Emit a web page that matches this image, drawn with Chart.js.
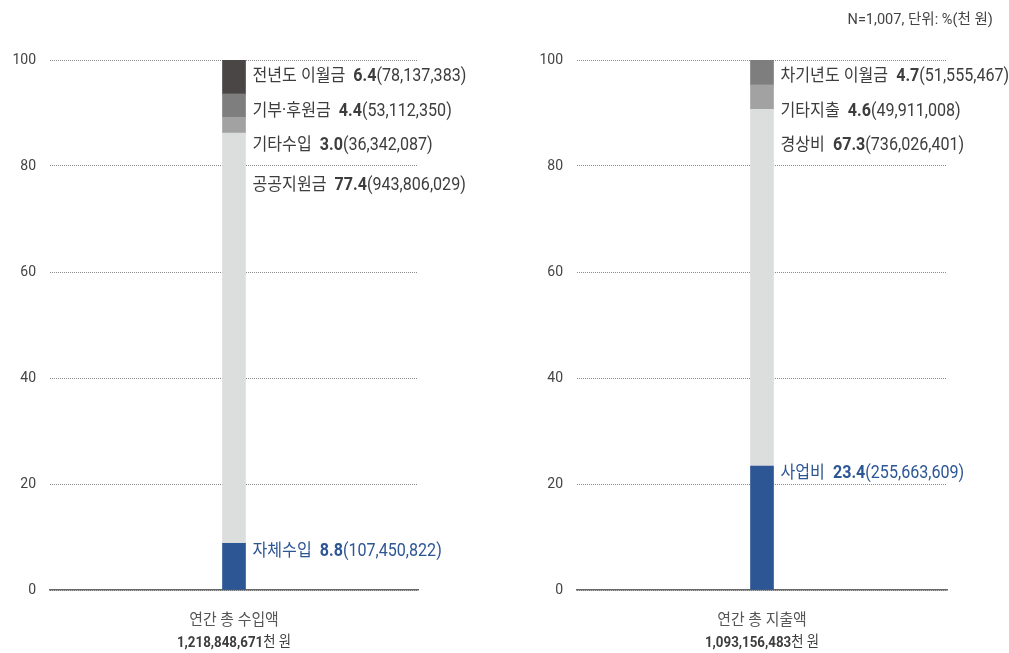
<!DOCTYPE html>
<html lang="ko">
<head>
    <meta charset="UTF-8">
    <title>연간 총 수입액 / 지출액</title>
    <style>
        body {
            margin: 0;
            background: #ffffff;
            font-family: Roboto, 'Noto Sans CJK KR', sans-serif;
        }

        .wrap {
            position: relative;
            width: 1009px;
            height: 653px;
        }

        .panel {
            position: absolute;
            top: 0;
            height: 653px;
        }

        .note {
            position: absolute;
            right: 16px;
            top: 7px;
            font-size: 15px;
            color: #444;
            transform: scaleX(0.97);
            transform-origin: right center;
            white-space: nowrap;
        }
    </style>
</head>
<body>
    <div class="wrap">
        <div class="panel" style="left:0; width:504px;"><canvas id="income"></canvas></div>
        <div class="panel" style="left:504px; width:505px;"><canvas id="expense"></canvas></div>
        <div class="note">N=1,007, 단위: %(천 원)</div>
    </div>

    <script src="https://cdn.jsdelivr.net/npm/chart.js"></script>
    <script>
        // 데이터
        const categories = ['연간 총 수입액', '연간 총 지출액'];
        const totals = ['1,218,848,671', '1,093,156,483'];
        const yTicks = [0, 20, 40, 60, 80, 100];

        const incomeLabels = ['자체수입', '공공지원금', '기타수입', '기부·후원금', '전년도 이월금'];
        const incomeShares = [8.8, 77.4, 3.0, 4.4, 6.4];
        const incomeAmounts = ['107,450,822', '943,806,029', '36,342,087', '53,112,350', '78,137,383'];

        const expenseLabels = ['사업비', '경상비', '기타지출', '차기년도 이월금'];
        const expenseShares = [23.4, 67.3, 4.6, 4.7];
        const expenseAmounts = ['255,663,609', '736,026,401', '49,911,008', '51,555,467'];

        // 색상
        const incomeColors = ['#2d5694', '#dcdddd', '#a2a2a2', '#7e7e7e', '#4b4646'];
        const expenseColors = ['#2d5694', '#dcdddd', '#a2a2a2', '#7e7e7e'];
        const BLUE = '#2d5694';
        const TEXT = '#3d3d3d';
        const FONT = "Roboto, 'Noto Sans CJK KR', sans-serif";
        // 위쪽 라벨들의 세로 간격 (100 눈금선 기준 px)
        const labelOffsets = [17, 52, 86, 126];

        function drawRuns(ctx, runs, x, y, align, size, sx) {
            ctx.save();
            ctx.textBaseline = 'middle';
            const widths = runs.map(r => {
                ctx.font = (r.bold ? 'bold ' : '') + size + 'px ' + FONT;
                return ctx.measureText(r.text).width;
            });
            const total = widths.reduce((a, b) => a + b, 0);
            const startX = align === 'center' ? x - total * sx / 2 : x;
            ctx.translate(startX, y);
            ctx.scale(sx, 1);
            let cx = 0;
            runs.forEach((r, i) => {
                ctx.font = (r.bold ? 'bold ' : '') + size + 'px ' + FONT;
                ctx.fillStyle = r.color;
                ctx.fillText(r.text, cx, 0);
                cx += widths[i];
            });
            ctx.restore();
        }

        function labelRuns(name, share, amount, color) {
            return [
                { text: name + '  ', bold: false, color: color },
                { text: share.toFixed(1), bold: true, color: color },
                { text: '(' + amount + ')', bold: false, color: color }
            ];
        }

        // 막대 옆 라벨과 아래 제목
        const labelPlugin = {
            id: 'barLabels',
            afterDatasetsDraw(chart, args, opts) {
                const ctx = chart.ctx;
                const y = chart.scales.y;
                const n = chart.data.datasets.length;
                const bar0 = chart.getDatasetMeta(0).data[0];
                const lx = bar0.x + bar0.width / 2 + 7;

                // 파란 막대 라벨: 막대 윗부분
                drawRuns(ctx, labelRuns(opts.names[0], opts.shares[0], opts.amounts[0], BLUE),
                    lx, bar0.y + 8, 'left', 17.5, 0.92);

                // 나머지: 위에서부터 차례로
                let k = 0;
                for (let i = n - 1; i >= 1; i--) {
                    const ly = y.getPixelForValue(100) + labelOffsets[k];
                    drawRuns(ctx, labelRuns(opts.names[i], opts.shares[i], opts.amounts[i], TEXT),
                        lx, ly, 'left', 17.5, 0.92);
                    k++;
                }

                // 아래 제목
                const cx = chart.scales.x.getPixelForValue(0);
                const base = chart.chartArea.bottom;
                drawRuns(ctx, [{ text: opts.category, bold: false, color: '#555' }],
                    cx, base + 31, 'center', 16, 0.93);
                drawRuns(ctx, [
                    { text: opts.total, bold: true, color: '#3d3d3d' },
                    { text: '천 원', bold: false, color: '#3d3d3d' }
                ], cx, base + 53, 'center', 15.5, 0.86);
            }
        };

        function makeChart(id, labels, shares, amounts, colors, category, total, axisWidth, padRight) {
            const datasets = shares.map((v, i) => ({
                label: labels[i],
                data: [v],
                backgroundColor: colors[i],
                barThickness: 23,
                borderWidth: 0
            }));

            return new Chart(document.getElementById(id), {
                type: 'bar',
                data: { labels: [category], datasets: datasets },
                options: {
                    responsive: true,
                    maintainAspectRatio: false,
                    animation: false,
                    layout: { padding: { left: 0, right: padRight, top: 60, bottom: 63 } },
                    plugins: {
                        legend: { display: false },
                        tooltip: { enabled: false },
                        barLabels: {
                            names: labels,
                            shares: shares,
                            amounts: amounts,
                            category: category,
                            total: total
                        }
                    },
                    scales: {
                        x: {
                            stacked: true,
                            grid: { display: false },
                            ticks: { display: false },
                            border: { display: true, color: '#666', width: 1.5 },
                            afterFit(scale) { scale.height = 0; }
                        },
                        y: {
                            stacked: true,
                            min: 0,
                            max: 100,
                            afterBuildTicks(scale) {
                                scale.ticks = yTicks.map(v => ({ value: v }));
                            },
                            afterFit(scale) { scale.width = axisWidth; },
                            grid: { color: '#8a8a8a', lineWidth: 1, drawTicks: false },
                            border: { display: false, dash: [1, 1] },
                            ticks: {
                                padding: 14,
                                color: '#444',
                                font: { family: FONT, size: 14 }
                            }
                        }
                    }
                },
                plugins: [labelPlugin]
            });
        }

        makeChart('income', incomeLabels, incomeShares, incomeAmounts, incomeColors,
            categories[0], totals[0], 50, 86);
        makeChart('expense', expenseLabels, expenseShares, expenseAmounts, expenseColors,
            categories[1], totals[1], 73, 62);
    </script>
</body>
</html>
